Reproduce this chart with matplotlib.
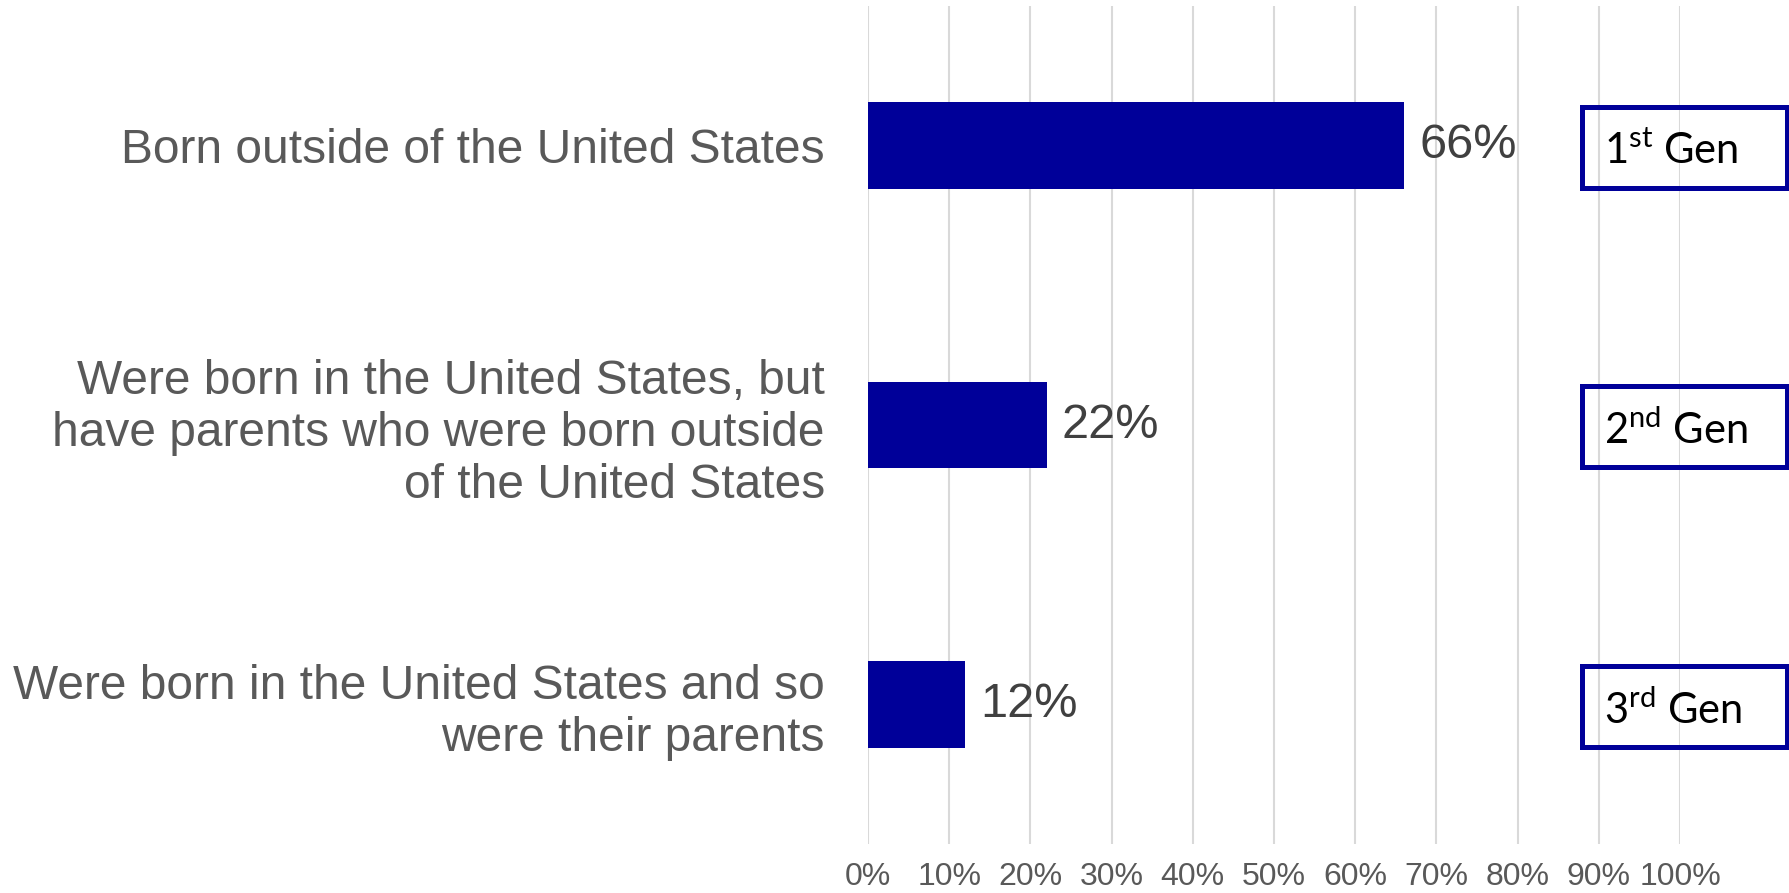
import matplotlib.pyplot as plt
from matplotlib.patches import Rectangle
import numpy as np

categories = [
    "Born outside of the United States",
    "Were born in the United States, but\nhave parents who were born outside\nof the United States",
    "Were born in the United States and so\nwere their parents",
]
values = [66, 22, 12]  # percent
generations = [r"1$^{\mathrm{st}}$ Gen", r"2$^{\mathrm{nd}}$ Gen", r"3$^{\mathrm{rd}}$ Gen"]
xticks = [0, 10, 20, 30, 40, 50, 60, 70, 80, 90, 100]

BAR_COLOR = "#000099"

plt.rcParams['font.family'] = 'Liberation Sans'
plt.rcParams['mathtext.fontset'] = 'custom'
plt.rcParams['mathtext.rm'] = 'Lato'

fig = plt.figure(figsize=(17.89, 8.93), dpi=100)
ax = fig.add_axes([868 / 1789, 49 / 893, 812 / 1789, 838 / 893])

y = np.arange(len(categories))
bars = ax.barh(y, values, height=0.31, color=BAR_COLOR, zorder=2)
ax.bar_label(bars, labels=[f"{v}%" for v in values], padding=11,
             fontsize=35, color="#404040")

ax.set_xlim(0, 100)
ax.set_ylim(len(categories) - 0.5, -0.5)
ax.set_xticks(xticks, [f"{t}%" for t in xticks])
ax.set_yticks(y, categories)
ax.tick_params(axis='y', length=0, pad=31, labelsize=34.5, labelcolor="#595959")
ax.tick_params(axis='x', length=0, pad=13, labelsize=23, labelcolor="#595959")
for lab in ax.get_yticklabels():
    lab.set_horizontalalignment('right')
    lab.set_multialignment('right')
    lab.set_linespacing(1.2)

ax.grid(axis='x', color="#d9d9d9", linewidth=1.5, zorder=0)
ax.set_axisbelow(True)
for s in ax.spines.values():
    s.set_visible(False)

# generation boxes to the right
for i, g in enumerate(generations):
    ax.add_patch(Rectangle((87.9, i - 0.138), 25.3, 0.29, fill=False,
                           edgecolor=BAR_COLOR, linewidth=3.6, clip_on=False, zorder=3))
    ax.text(90.7, i + 0.02, g, fontsize=30, family='Lato', color="black",
            va='center', ha='left', clip_on=False)

plt.savefig("out.png", dpi=100)
